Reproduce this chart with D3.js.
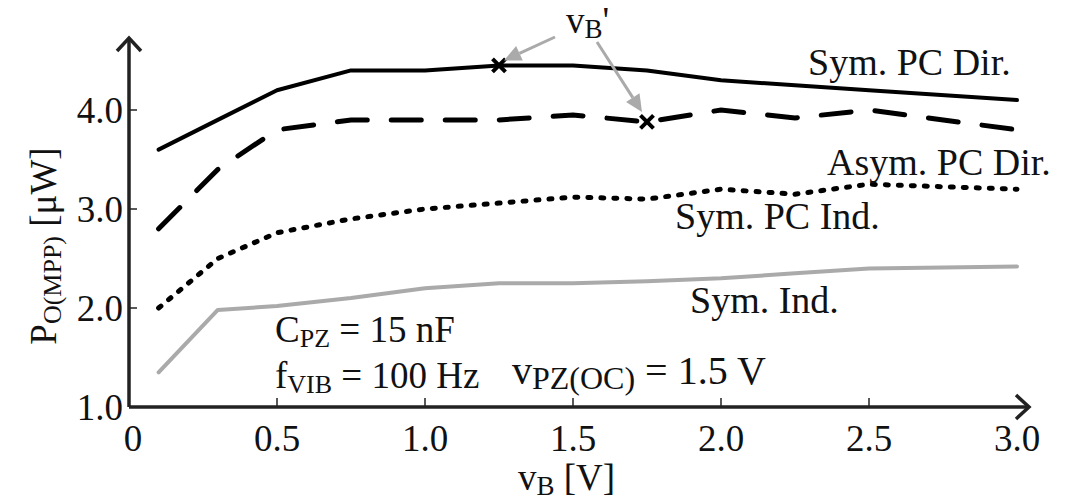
<!DOCTYPE html>
<html>
<head>
<meta charset="utf-8">
<script src="https://cdn.jsdelivr.net/npm/d3@7"></script>
<style>
  html, body { margin: 0; padding: 0; background: #fff; }
  svg { display: block; }
  text { font-family: "Liberation Serif", "Times New Roman", serif; fill: #111; }
</style>
</head>
<body>
<svg id="chart" width="1071" height="500"></svg>
<script>
// ---- data ----
const vB        = [0.1, 0.3, 0.5, 0.75, 1.0, 1.25, 1.5, 1.75, 2.0, 2.25, 2.5, 3.0];
const symPcDir  = [3.6, 3.9, 4.2, 4.4, 4.4, 4.45, 4.45, 4.4, 4.3, 4.25, 4.2, 4.1];
const asymPcDir = [2.8, 3.4, 3.8, 3.9, 3.9, 3.9, 3.95, 3.88, 4.0, 3.92, 4.0, 3.8];
const symPcInd  = [2.0, 2.5, 2.76, 2.9, 3.0, 3.06, 3.12, 3.1, 3.2, 3.15, 3.25, 3.2];
const symInd    = [1.35, 1.98, 2.02, 2.1, 2.2, 2.25, 2.25, 2.27, 2.3, 2.35, 2.4, 2.42];
const xTicks = [0, 0.5, 1.0, 1.5, 2.0, 2.5, 3.0];
const xTickLabels = ["0", "0.5", "1.0", "1.5", "2.0", "2.5", "3.0"];
const yTicks = [1.0, 2.0, 3.0, 4.0];
const yTickLabels = ["1.0", "2.0", "3.0", "4.0"];
const markerPts = [[1.25, 4.45], [1.75, 3.88]];

const svg = d3.select("#chart");
const x = d3.scaleLinear().domain([0, 3]).range([129, 1017]);
const y = d3.scaleLinear().domain([1, 4]).range([407, 110]);
const axisColor = "#222";

// axes lines
const g = svg.append("g");
g.append("line").attr("x1", x(0)).attr("y1", y(1)).attr("x2", 1029).attr("y2", y(1))
  .attr("stroke", axisColor).attr("stroke-width", 3.5);
g.append("line").attr("x1", x(0)).attr("y1", y(1)).attr("x2", x(0)).attr("y2", 38)
  .attr("stroke", axisColor).attr("stroke-width", 3.5);
// axis arrowheads (open chevrons)
g.append("path").attr("d", `M${x(0)-12},51 L${x(0)},38 L${x(0)+12},51`)
  .attr("fill", "none").attr("stroke", axisColor).attr("stroke-width", 3.5);
g.append("path").attr("d", `M1016,${y(1)-12} L1029,${y(1)} L1016,${y(1)+12}`)
  .attr("fill", "none").attr("stroke", axisColor).attr("stroke-width", 3.5);

// ticks
xTicks.forEach((t, i) => {
  if (t > 0 && t < 3) {
    g.append("line").attr("x1", x(t)).attr("x2", x(t)).attr("y1", y(1)).attr("y2", y(1) - 9)
      .attr("stroke", axisColor).attr("stroke-width", 1.5);
  }
  g.append("text").attr("x", t === 0 ? x(t) + 4 : x(t)).attr("y", 451)
    .attr("text-anchor", "middle").attr("font-size", 37).text(xTickLabels[i]);
});
yTicks.forEach((t, i) => {
  if (t > 1) {
    g.append("line").attr("x1", x(0)).attr("x2", x(0) + 8).attr("y1", y(t)).attr("y2", y(t))
      .attr("stroke", axisColor).attr("stroke-width", 1.5);
  }
  g.append("text").attr("x", 123).attr("y", y(t) + 13)
    .attr("text-anchor", "end").attr("font-size", 37).text(yTickLabels[i]);
});

// axis titles
const xt = svg.append("text").attr("x", 518).attr("y", 490).attr("font-size", 37);
xt.append("tspan").text("v");
xt.append("tspan").attr("font-size", 27).attr("dy", 5).text("B");
xt.append("tspan").attr("dy", -5).text(" [V]");

const yt = svg.append("text").attr("transform", "translate(56,246) rotate(-90)")
  .attr("text-anchor", "middle").attr("font-size", 37);
yt.append("tspan").text("P");
yt.append("tspan").attr("font-size", 26).attr("dy", 5).text("O(MPP)");
yt.append("tspan").attr("dy", -5).text(" [\u03bcW]");

// lines
const line = (ys) => d3.line().curve(d3.curveLinear)
  .x((d, i) => x(vB[i])).y(d => y(d))(ys);

svg.append("path").attr("d", line(symInd)).attr("fill", "none")
  .attr("stroke", "#aaaaaa").attr("stroke-width", 4).attr("stroke-linecap", "round")
  .attr("stroke-linejoin", "round");
svg.append("path").attr("d", line(symPcInd)).attr("fill", "none")
  .attr("stroke", "#000").attr("stroke-width", 5).attr("stroke-linecap", "round")
  .attr("stroke-dasharray", "3,10");
svg.append("path").attr("d", line(asymPcDir)).attr("fill", "none")
  .attr("stroke", "#000").attr("stroke-width", 5).attr("stroke-linecap", "round")
  .attr("stroke-dasharray", "30,24");
svg.append("path").attr("d", line(symPcDir)).attr("fill", "none")
  .attr("stroke", "#000").attr("stroke-width", 4).attr("stroke-linecap", "round")
  .attr("stroke-linejoin", "round");

// x markers
markerPts.forEach(p => {
  const cx = x(p[0]), cy = y(p[1]), s = 6.5;
  svg.append("path").attr("d", `M${cx-s},${cy-s} L${cx+s},${cy+s} M${cx-s},${cy+s} L${cx+s},${cy-s}`)
    .attr("stroke", "#000").attr("stroke-width", 4);
});

// annotation arrows
const grey = "#aaaaaa";
function arrow(x1, y1, x2, y2) {
  const ang = Math.atan2(y2 - y1, x2 - x1);
  const L = 17, W = 8;
  const bx = x2 - L * Math.cos(ang), by = y2 - L * Math.sin(ang);
  svg.append("line").attr("x1", x1).attr("y1", y1).attr("x2", bx).attr("y2", by)
    .attr("stroke", grey).attr("stroke-width", 3);
  const px = -Math.sin(ang) * W, py = Math.cos(ang) * W;
  svg.append("path").attr("d", `M${x2},${y2} L${bx+px},${by+py} L${bx-px},${by-py} Z`).attr("fill", grey);
}
arrow(555, 37, x(1.25) + 5, y(4.45) - 5);
arrow(597, 42, x(1.75) - 5, y(3.88) - 10);

const vb = svg.append("text").attr("x", 566).attr("y", 33).attr("font-size", 37);
vb.append("tspan").text("v");
vb.append("tspan").attr("font-size", 27).attr("dy", 5).text("B");
vb.append("tspan").attr("dy", -5).text("'");

// series labels
const lab = (t, xx, yy) => svg.append("text").attr("x", xx).attr("y", yy).attr("font-size", 38).text(t);
lab("Sym. PC Dir.", 808, 75);
lab("Asym. PC Dir.", 827, 175);
lab("Sym. PC Ind.", 675, 229);
lab("Sym. Ind.", 690, 313);

// parameter notes
function sub(xx, yy, main, subTxt, rest, fs, sfs) {
  const t = svg.append("text").attr("x", xx).attr("y", yy).attr("font-size", fs);
  t.append("tspan").text(main);
  t.append("tspan").attr("font-size", sfs).attr("dy", 5).text(subTxt);
  t.append("tspan").attr("dy", -5).text(rest);
}
sub(275, 342, "C", "PZ", " = 15 nF", 37, 26);
sub(275, 388, "f", "VIB", " = 100 Hz", 37, 26);
sub(512, 384, "v", "PZ(OC)", " = 1.5 V", 40, 32);
</script>
</body>
</html>
